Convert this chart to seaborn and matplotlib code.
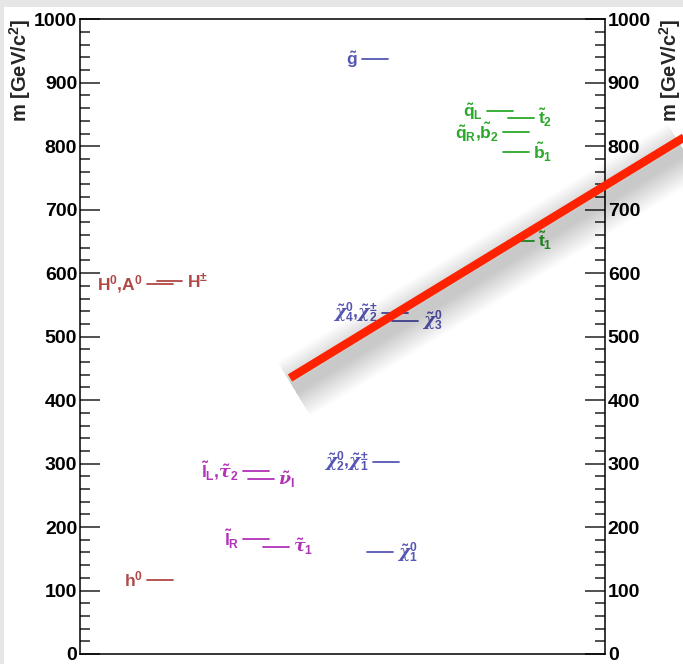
import numpy as np
import pandas as pd
import matplotlib
matplotlib.use("Agg")
import matplotlib.pyplot as plt
from matplotlib.patches import Rectangle
from matplotlib.lines import Line2D
from matplotlib.ticker import MultipleLocator
import seaborn as sns

# ---------------- data ----------------
particles = ["h0", "H0A0", "Hpm", "lL_tau2", "nu", "lR", "tau1",
             "chi4_chi2pm", "chi3", "chi2_chi1pm", "chi1",
             "gluino", "qL", "t2", "qR_b2", "b1", "t1"]
masses = [117, 583, 587, 288, 275, 181, 169,
          537, 525, 303, 160,
          937, 855, 845, 822, 791, 651]
groups = ["higgs", "higgs", "higgs",
          "slepton", "slepton", "slepton", "slepton",
          "gaugino", "gaugino", "gaugino", "gaugino",
          "gaugino", "squark", "squark", "squark", "squark", "squark"]
labels = [r"h$^{0}$", r"H$^{0}$,A$^{0}$", r"H$^{\pm}$",
          r"$\tilde{l}_{L}$,$\tilde{\mathsf{\tau}}_{2}$", r"$\tilde{\mathsf{\nu}}_{l}$",
          r"$\tilde{l}_{R}$", r"$\tilde{\mathsf{\tau}}_{1}$",
          r"$\tilde{\mathsf{\chi}}^{0}_{4}$,$\tilde{\mathsf{\chi}}^{\pm}_{2}$",
          r"$\tilde{\mathsf{\chi}}^{0}_{3}$",
          r"$\tilde{\mathsf{\chi}}^{0}_{2}$,$\tilde{\mathsf{\chi}}^{\pm}_{1}$",
          r"$\tilde{\mathsf{\chi}}^{0}_{1}$",
          r"$\tilde{g}$", r"$\tilde{q}_{L}$", r"$\tilde{t}_{2}$",
          r"$\tilde{q}_{R}$,$\tilde{b}_{2}$", r"$\tilde{b}_{1}$", r"$\tilde{t}_{1}$"]
yticks = [0, 100, 200, 300, 400, 500, 600, 700, 800, 900, 1000]

# ---------------- layout (positions / styles) ----------------
x_start = {"h0": 0.128, "H0A0": 0.128, "Hpm": 0.146,
           "lL_tau2": 0.311, "nu": 0.320, "lR": 0.311, "tau1": 0.349,
           "chi4_chi2pm": 0.575, "chi3": 0.594, "chi2_chi1pm": 0.558, "chi1": 0.547,
           "gluino": 0.537, "qL": 0.775, "t2": 0.815, "qR_b2": 0.806, "b1": 0.806, "t1": 0.815}
label_side = {"h0": "L", "H0A0": "L", "Hpm": "R", "lL_tau2": "L", "nu": "R",
              "lR": "L", "tau1": "R", "chi4_chi2pm": "L", "chi3": "R",
              "chi2_chi1pm": "L", "chi1": "R", "gluino": "L", "qL": "L",
              "t2": "R", "qR_b2": "L", "b1": "R", "t1": "R"}
seg_w = 0.049
palette = {"higgs": "#b04848", "slepton": "#b232b8",
           "gaugino": "#5656b4", "squark": "#2aa82a"}

sns.set_style("white")
plt.rcParams["font.family"] = ["Liberation Sans", "DejaVu Sans"]
plt.rcParams["font.weight"] = "bold"
plt.rcParams["mathtext.fontset"] = "custom"
plt.rcParams["mathtext.rm"] = "Liberation Sans:bold"
plt.rcParams["mathtext.it"] = "Liberation Sans:bold"
plt.rcParams["mathtext.bf"] = "Liberation Sans:bold"
plt.rcParams["mathtext.sf"] = "DejaVu Serif:italic"

rows = []
for p, m, g in zip(particles, masses, groups):
    x0 = x_start[p]
    rows.append({"particle": p, "group": g, "x": x0, "mass": m})
    rows.append({"particle": p, "group": g, "x": x0 + seg_w, "mass": m})
df = pd.DataFrame(rows)

fig = plt.figure(figsize=(6.83, 6.64), dpi=100)
fig.patch.set_facecolor("#e6e6e6")
fig.add_artist(Rectangle((4 / 683, 0), 1, 1 - 7 / 664, transform=fig.transFigure,
                         facecolor="white", edgecolor="none", zorder=-10))

ax = fig.add_axes([80 / 683, 10 / 664, 525 / 683, (654 - 19.3) / 664])
ax.set_facecolor("none")

sns.lineplot(data=df, x="x", y="mass", hue="group", units="particle",
             estimator=None, sort=False, palette=palette, legend=False,
             linewidth=1.3, ax=ax)

ax.set_xlim(0, 1)
ax.set_ylim(0, 1000)
ax.set_xlabel("")
ax.set_ylabel("")
ax.set_xticks([])
ax.set_yticks(yticks)
ax.set_yticklabels([str(v) for v in yticks])
ax.yaxis.set_minor_locator(MultipleLocator(20))
ax.tick_params(axis="y", which="both", direction="in", left=True, right=True,
               labelleft=True, labelright=True, colors="#222222", labelcolor="black",
               labelsize=14, width=1.1)
ax.tick_params(axis="y", which="major", length=14.4, pad=2)
ax.tick_params(axis="y", which="minor", length=7.2)
for lab in ax.get_yticklabels():
    lab.set_fontweight("bold")
for s in ax.spines.values():
    s.set_visible(True)
    s.set_color("black")
    s.set_linewidth(1.1)

# particle labels
gap = 0.008
for p, m, g, lab in zip(particles, masses, groups, labels):
    x0 = x_start[p]
    if label_side[p] == "L":
        ax.text(x0 - gap, m, lab, ha="right", va="center", fontsize=12.5,
                color=palette[g], fontweight="bold")
    else:
        ax.text(x0 + seg_w + gap, m, lab, ha="left", va="center", fontsize=12.5,
                color=palette[g], fontweight="bold")

# axis titles
fig.text(20 / 683, 1 - 19 / 664, r"m [GeV/c$^{2}$]", rotation=90, ha="center",
         va="top", fontsize=14.5, fontweight="bold")
fig.text(670 / 683, 1 - 19 / 664, r"m [GeV/c$^{2}$]", rotation=90, ha="center",
         va="top", fontsize=14.5, fontweight="bold")

# red overlay stroke with soft shadow
x0f, y0f = 290 / 683, 1 - 378 / 664
x1f, y1f = 700 / 683, 1 - 127.6 / 664
n_layers = 18
for i in range(n_layers):
    lw = 8 + i * 2.2
    fig.add_artist(Line2D([x0f + 4 / 683, x1f + 4 / 683], [y0f - 11 / 664, y1f - 11 / 664],
                          transform=fig.transFigure, color="black", alpha=0.011,
                          linewidth=lw, solid_capstyle="butt", zorder=5))
fig.add_artist(Line2D([x0f, x1f], [y0f, y1f], transform=fig.transFigure,
                      color="#ff2200", linewidth=6, solid_capstyle="butt", zorder=6))

fig.savefig("out.png", dpi=100)
